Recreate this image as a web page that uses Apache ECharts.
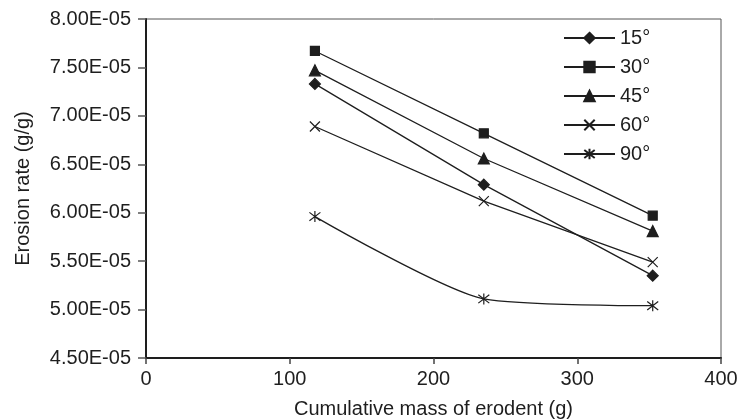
<!DOCTYPE html>
<html>
<head>
<meta charset="utf-8">
<script src="https://cdn.jsdelivr.net/npm/echarts@6/dist/echarts.min.js"></script>
<style>
html,body{margin:0;padding:0;background:#fff;}
#c{width:741px;height:420px;}
</style>
</head>
<body>
<div id="c"></div>
<script>
// Data
const massX = [117.5, 235, 352.5];
const seriesNames = ['15°', '30°', '45°', '60°', '90°'];
const rate15 = [7.33e-5, 6.29e-5, 5.35e-5];
const rate30 = [7.67e-5, 6.82e-5, 5.97e-5];
const rate45 = [7.47e-5, 6.56e-5, 5.81e-5];
const rate60 = [6.89e-5, 6.12e-5, 5.49e-5];
const rate90 = [5.96e-5, 5.11e-5, 5.04e-5];
const xTicks = [0, 100, 200, 300, 400];
const yTickLabels = ['4.50E-05','5.00E-05','5.50E-05','6.00E-05','6.50E-05','7.00E-05','7.50E-05','8.00E-05'];

const ink = '#1e1e1e';
const crossPath = 'path://M0,0L10,10M10,0L0,10';
const starPath = 'path://M0,0L10,10M10,0L0,10M5,-1.5L5,11.5';

function pairs(arr){ return massX.map((x,i)=>[x, arr[i]]); }

const seriesDefs = [
  {name: seriesNames[0], data: rate15, symbol: 'diamond', size: 11, smooth: false},
  {name: seriesNames[1], data: rate30, symbol: 'rect', size: 9, smooth: false},
  {name: seriesNames[2], data: rate45, symbol: 'triangle', size: 11, smooth: false},
  {name: seriesNames[3], data: rate60, symbol: crossPath, size: 10, smooth: false},
  {name: seriesNames[4], data: rate90, symbol: starPath, size: 11, smooth: 0.22}
];

const chart = echarts.init(document.getElementById('c'), null, {renderer: 'canvas'});
chart.setOption({
  animation: false,
  backgroundColor: '#fff',
  textStyle: {fontFamily: 'Liberation Sans, Arial, sans-serif', color: ink},
  grid: {left: 146, right: 20, top: 19, bottom: 62, show: true, borderColor: '#555', borderWidth: 1,
         containLabel: false, outerBoundsMode: 'none'},
  legend: {
    orient: 'vertical',
    left: 558, top: 23,
    itemWidth: 51, itemHeight: 13, itemGap: 9,
    textStyle: {fontSize: 20, color: ink, lineHeight: 20},
    data: seriesNames
  },
  xAxis: {
    type: 'value', min: 0, max: 400, interval: 100,
    name: 'Cumulative mass of erodent (g)', nameLocation: 'middle', nameGap: 41,
    nameTextStyle: {fontSize: 20, color: ink},
    axisLine: {show: true, lineStyle: {color: ink, width: 2}},
    axisTick: {show: true, inside: false, length: 6, lineStyle: {color: '#444', width: 1.5}},
    axisLabel: {fontSize: 20, color: ink, margin: 11, formatter: v => String(xTicks[xTicks.indexOf(v)])},
    splitLine: {show: false}
  },
  yAxis: {
    type: 'value', min: 4.5e-5, max: 8e-5, interval: 0.5e-5,
    name: 'Erosion rate (g/g)', nameLocation: 'middle', nameGap: 113, nameRotate: 90,
    nameTextStyle: {fontSize: 20, color: ink},
    axisLine: {show: true, lineStyle: {color: ink, width: 2}},
    axisTick: {show: true, inside: false, length: 8, lineStyle: {color: '#555', width: 1.5}},
    axisLabel: {fontSize: 20, color: ink, margin: 15,
      formatter: v => yTickLabels[Math.round((v - 4.5e-5) / 0.5e-5)]},
    splitLine: {show: false}
  },
  series: seriesDefs.map(s => ({
    type: 'line',
    name: s.name,
    data: pairs(s.data),
    symbol: s.symbol,
    symbolSize: s.size,
    smooth: s.smooth,
    showSymbol: true,
    lineStyle: {color: ink, width: 1.3},
    itemStyle: {color: ink, borderColor: ink, borderWidth: 1.2},
    emphasis: {disabled: true}
  }))
});
</script>
</body>
</html>
